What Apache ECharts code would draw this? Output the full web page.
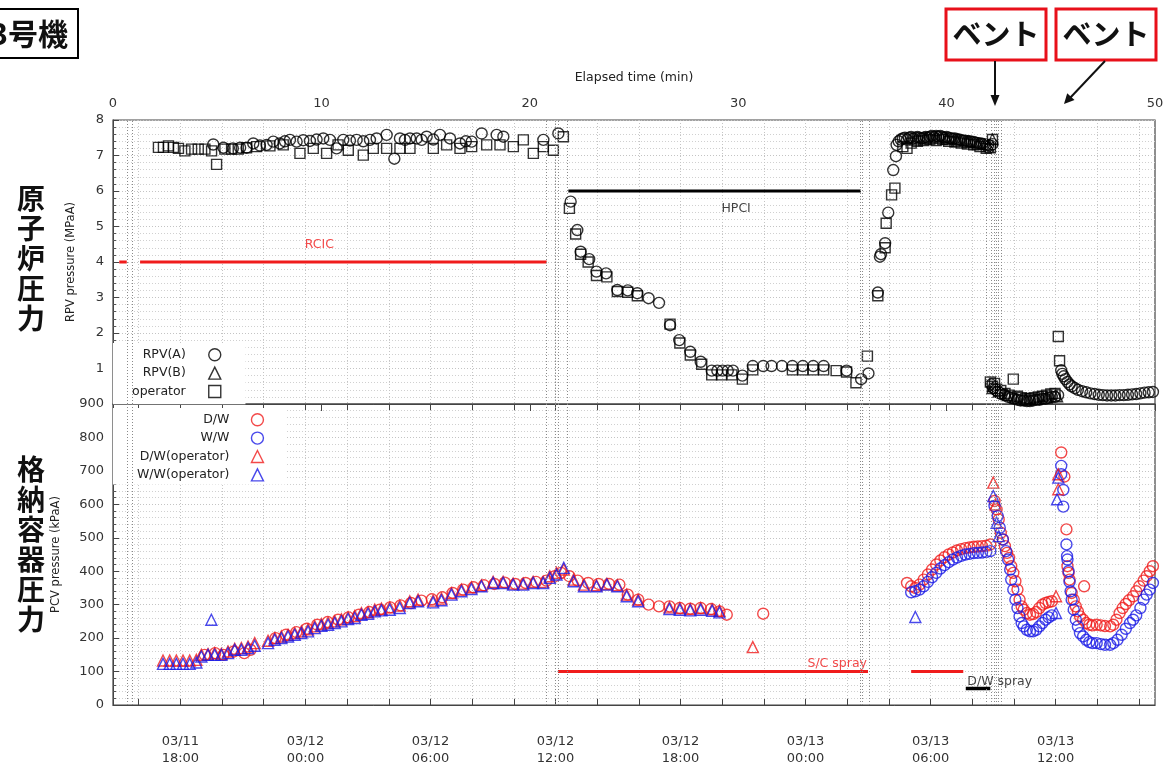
<!DOCTYPE html>
<html><head><meta charset="utf-8">
<script src="https://cdn.jsdelivr.net/npm/echarts@6/dist/echarts.min.js"></script>
<style>html,body{margin:0;padding:0;background:#fff}#c{width:1174px;height:769px}</style>
</head><body><div id="c"></div>
<script>
// ---- axis / label data ----
const T0 = Date.UTC(2011, 2, 11, 14, 46);           // elapsed-time origin
const dateLabels = ['03/11 18:00','03/12 00:00','03/12 06:00','03/12 12:00','03/12 18:00','03/13 00:00','03/13 06:00','03/13 12:00'];
const gridTickStart = '03/11 16:00';
const eventHours = [0.7, 0.9, 20.8, 21.2, 21.35, 21.8, 35.85, 35.97, 36.3, 41.9, 42.15, 42.3, 42.4, 42.5, 42.6];

// ---- RPV pressure (MPa) [elapsed h, value] ----
const rpvA = [
[4.81,7.31],[5.3,7.22],[5.75,7.2],[6.1,7.22],[6.41,7.22],[6.73,7.34],[7.05,7.28],[7.37,7.30],[7.69,7.39],[8.0,7.34],[8.25,7.40],[8.49,7.44],[8.81,7.39],[9.13,7.43],[9.45,7.41],[9.77,7.45],[10.09,7.48],[10.41,7.44],[10.73,7.2],[11.05,7.44],[11.37,7.42],[11.69,7.44],[12.01,7.40],[12.33,7.44],[12.65,7.48],[13.13,7.58],[13.5,6.91],[13.77,7.48],[14.01,7.44],[14.25,7.48],[14.57,7.48],[14.81,7.44],[15.05,7.53],[15.37,7.45],[15.69,7.58],[16.17,7.48],[16.65,7.34],[16.93,7.40],[17.21,7.39],[17.69,7.62],[18.41,7.58],[18.73,7.53],[20.65,7.44],[21.37,7.62],
[21.96,5.70],[22.28,4.90],[22.44,4.29],[22.85,4.08],[23.2,3.73],[23.66,3.68],[24.2,3.21],[24.7,3.20],[25.16,3.12],[25.7,2.98],[26.2,2.85],[26.73,2.22],[27.17,1.80],[27.7,1.47],[28.2,1.19],[28.73,0.94],[29.0,0.94],[29.25,0.94],[29.5,0.94],[29.75,0.94],[30.2,0.80],[30.7,1.07],[31.2,1.07],[31.6,1.07],[32.1,1.07],[32.6,1.07],[33.1,1.07],[33.6,1.07],[34.1,1.07],[35.2,0.94],[35.9,0.70],[36.25,0.86],[36.7,3.14],[36.8,4.15],[36.85,4.22],[37.05,4.53],[37.2,5.39],[37.44,6.59],[37.57,6.98],[37.6,7.3],
[37.7,7.40],[37.8,7.45],[37.9,7.48],[38.0,7.50],[38.1,7.45],[38.2,7.50],[38.3,7.52],[38.4,7.48],[38.5,7.50],[38.6,7.52],[38.7,7.50],[38.8,7.48],[38.9,7.50],[39.0,7.52],[39.1,7.50],[39.2,7.53],[39.3,7.55],[39.4,7.52],[39.5,7.55],[39.6,7.53],[39.7,7.55],[39.8,7.52],[39.9,7.50],[40.0,7.52],[40.1,7.50],[40.2,7.48],[40.3,7.47],[40.4,7.48],[40.5,7.45],[40.6,7.45],[40.7,7.43],[40.8,7.42],[40.9,7.42],[41.0,7.40],[41.1,7.40],[41.2,7.38],[41.3,7.38],[41.4,7.36],[41.5,7.35],[41.6,7.34],[41.7,7.33],[41.8,7.32],[41.9,7.30],[42.0,7.30],[42.1,7.28],[42.2,7.32],
[42.15,0.55],[42.25,0.45],[42.35,0.40],[42.45,0.35],[42.55,0.30],[42.65,0.28],[42.8,0.25],[42.95,0.20],[43.1,0.18],[43.25,0.15],[43.4,0.12],[43.55,0.10],[43.7,0.10],[43.85,0.08],[44.0,0.08],[44.15,0.10],[44.3,0.12],[44.45,0.12],[44.6,0.15],[44.75,0.15],[44.9,0.18],[45.05,0.20],[45.2,0.20],[45.35,0.25],
[45.5,0.95],[45.55,0.85],[45.62,0.78],[45.7,0.70],[45.8,0.62],[45.9,0.55],[46.0,0.50],[46.15,0.45],[46.3,0.40],[46.5,0.36],[46.7,0.33],[46.9,0.30],[47.1,0.28],[47.3,0.26],[47.5,0.25],[47.7,0.24],[47.9,0.24],[48.1,0.24],[48.3,0.25],[48.5,0.25],[48.7,0.26],[48.9,0.27],[49.1,0.28],[49.3,0.30],[49.5,0.32],[49.7,0.33],[49.9,0.34]
];
const rpvB = [
[38.5,7.45],[39.0,7.48],[39.5,7.50],[40.0,7.47],[40.5,7.42],[41.0,7.38],[41.5,7.32],[42.0,7.26],[42.2,7.45],
[42.2,0.45],[42.5,0.35],[42.9,0.25],[43.3,0.18],[43.8,0.12],[44.3,0.14],[44.8,0.18],[45.3,0.22]
];
const rpvOperator = [
[2.18,7.23],[2.42,7.23],[2.66,7.27],[2.90,7.23],[3.14,7.20],[3.45,7.13],[3.77,7.18],[4.09,7.18],[4.41,7.18],[4.73,7.13],[4.97,6.75],[5.37,7.18],[5.69,7.18],[6.01,7.18],[6.41,7.22],[6.89,7.25],[7.53,7.27],[8.17,7.30],[8.97,7.06],[9.61,7.20],[10.25,7.06],[10.8,7.3],[11.29,7.15],[12.01,7.01],[12.49,7.20],[13.13,7.20],[13.77,7.20],[14.25,7.20],[15.37,7.20],[16.01,7.30],[16.65,7.20],[17.21,7.25],[17.93,7.30],[18.57,7.30],[19.21,7.25],[19.69,7.44],[20.17,7.06],[20.65,7.25],[21.13,7.15],[21.61,7.53],
[21.9,5.51],[22.2,4.79],[22.44,4.22],[22.8,4.0],[23.2,3.62],[23.7,3.58],[24.2,3.17],[24.7,3.15],[25.16,3.05],[26.73,2.25],[27.2,1.72],[27.7,1.38],[28.25,1.12],[28.73,0.82],[29.2,0.82],[29.7,0.82],[30.2,0.70],[30.7,0.96],[32.6,0.96],[33.1,0.96],[33.6,0.96],[34.1,0.96],[34.7,0.94],[35.2,0.90],[35.65,0.60],[36.2,1.35],[36.7,3.05],[37.05,4.40],[37.1,5.09],[37.36,5.89],[37.52,6.08],
[37.9,7.25],[38.1,7.20],[38.3,7.35],[38.6,7.40],[38.9,7.42],[39.2,7.45],[39.5,7.42],[39.8,7.45],[40.1,7.40],[40.4,7.38],[40.7,7.35],[41.0,7.32],[41.3,7.30],[41.6,7.25],[41.9,7.20],[42.1,7.22],[42.2,7.45],
[42.1,0.62],[42.2,0.50],[42.3,0.58],[42.4,0.42],[42.6,0.38],[42.8,0.30],[43.0,0.25],[43.2,0.70],[43.4,0.22],[43.6,0.18],[43.8,0.15],[44.0,0.15],[44.2,0.18],[44.4,0.20],[44.6,0.22],[44.8,0.25],[45.0,0.28],[45.2,0.30],[45.36,1.90],[45.42,1.22]
];
const rcicLine = [[0.3,4],[0.66,4],[1.0,'-'],[1.3,4],[20.81,4]];
const hpciLine = [[21.85,6],[35.88,6]];

// ---- PCV pressure (kPa) [elapsed h, value] ----
const dw = [
[4.4,150],[4.9,155],[5.3,150],[5.8,160],[6.3,155],[6.6,165],[7.8,200],[8.3,210],[8.8,218],[9.3,228],[9.8,240],[10.3,248],[10.8,255],[11.3,262],[11.8,270],[12.3,278],[12.8,285],[13.3,292],[13.8,298],[14.3,305],[14.8,312],[15.3,316],[15.8,322],[16.3,335],[16.8,345],[17.3,352],[17.8,358],[18.3,362],[18.8,366],[19.3,362],[19.8,365],[20.3,368],[20.8,372],[21.2,385],[21.5,395],[21.9,385],[22.3,372],[22.8,365],[23.3,362],[23.8,362],[24.3,360],[24.7,330],[25.2,315],[25.7,300],[26.2,295],[26.7,295],[27.2,290],[27.7,288],[28.2,290],[28.7,287],[29.1,280],[29.45,270],[31.2,273],
[38.1,365],[38.3,355],[38.5,350],[38.7,360],[38.9,375],[39.1,390],[39.3,405],[39.5,420],[39.7,432],[39.9,442],[40.1,450],[40.3,456],[40.5,462],[40.7,466],[40.9,469],[41.1,471],[41.3,473],[41.5,474],[41.7,475],[41.9,476],[42.1,480],[42.3,610],[42.4,585],[42.5,555],[42.6,515],[42.7,495],[42.8,475],[42.9,455],[43.0,440],[43.1,415],[43.2,395],[43.3,370],[43.4,345],[43.5,315],[43.6,295],[43.7,285],[43.85,275],[44.0,270],[44.15,272],[44.3,278],[44.45,290],[44.6,300],[44.75,305],[44.9,308],[45.05,310],
[45.5,755],[45.65,683],[45.75,525],[45.8,415],[45.85,395],[45.9,375],[46.0,335],[46.1,315],[46.2,295],[46.3,280],[46.4,265],[46.55,255],[46.6,355],[46.7,245],[46.85,240],[47.0,238],[47.2,240],[47.4,238],[47.6,236],[47.85,235],[48.0,240],[48.15,255],[48.3,275],[48.45,290],[48.6,302],[48.75,313],[48.95,325],[49.1,340],[49.25,355],[49.45,372],[49.6,385],[49.75,400],[49.9,415]
];
const ww = [
[38.3,337],[38.5,340],[38.7,345],[38.9,355],[39.1,368],[39.3,382],[39.5,395],[39.7,408],[39.9,418],[40.1,427],[40.3,435],[40.5,441],[40.7,446],[40.9,450],[41.1,452],[41.3,454],[41.5,455],[41.7,456],[41.9,457],[42.1,460],[42.3,595],[42.45,565],[42.55,530],[42.7,495],[42.85,460],[42.95,435],[43.05,405],[43.1,375],[43.2,345],[43.3,315],[43.4,290],[43.5,265],[43.6,245],[43.7,235],[43.85,225],[44.0,220],[44.15,220],[44.3,225],[44.45,235],[44.6,245],[44.75,255],[44.9,262],[45.05,268],
[45.5,715],[45.5,690],[45.6,643],[45.6,593],[45.75,480],[45.78,445],[45.8,435],[45.85,400],[45.9,368],[45.95,340],[46.0,315],[46.1,285],[46.2,255],[46.3,235],[46.4,215],[46.55,205],[46.7,195],[46.85,188],[47.0,185],[47.2,185],[47.4,182],[47.6,180],[47.85,180],[48.0,185],[48.2,195],[48.4,210],[48.6,228],[48.8,245],[48.95,255],[49.1,268],[49.3,290],[49.45,315],[49.6,330],[49.75,345],[49.9,365]
];
const dwOperator = [
[2.4,133],[2.72,133],[3.04,133],[3.36,133],[3.68,133],[4.0,135],[4.24,150],[4.56,152],[4.88,155],[5.2,153],[5.52,160],[5.84,168],[6.16,170],[6.48,175],[6.8,185],[7.44,192],[7.76,200],[8.08,205],[8.4,210],[8.72,215],[9.04,220],[9.36,226],[9.68,235],[10.0,242],[10.32,246],[10.64,250],[10.96,256],[11.28,262],[11.6,266],[11.92,275],[12.24,278],[12.56,285],[12.88,288],[13.28,292],[13.76,297],[14.24,310],[14.64,315],[15.36,312],[15.76,318],[16.24,335],[16.72,345],[17.2,352],[17.68,358],[18.24,368],[18.72,368],[19.2,363],[19.68,363],[20.16,368],[20.64,368],[20.96,385],[21.28,395],[21.63,405],[22.1,375],[22.6,360],[23.2,358],[23.7,362],[24.2,358],[24.65,330],[25.2,315],[26.7,292],[27.2,290],[27.7,287],[28.2,290],[28.75,286],[29.1,282],[30.7,173],
[42.24,665],[42.35,600],[45.25,325],[45.36,645],[45.36,690]
];
const wwOperator = [
[2.4,123],[2.72,123],[3.04,123],[3.36,123],[3.68,123],[4.0,127],[4.24,145],[4.56,150],[4.72,255],[4.88,150],[5.2,150],[5.52,155],[5.84,165],[6.16,165],[6.48,170],[6.8,177],[7.44,185],[7.76,195],[8.08,200],[8.4,205],[8.72,210],[9.04,215],[9.36,220],[9.68,230],[10.0,237],[10.32,240],[10.64,245],[10.96,250],[11.28,257],[11.6,260],[11.92,270],[12.24,273],[12.56,280],[12.88,283],[13.28,285],[13.76,290],[14.24,305],[14.64,310],[15.36,307],[15.76,313],[16.24,330],[16.72,340],[17.2,347],[17.68,355],[18.24,365],[18.72,365],[19.2,360],[19.68,360],[20.16,365],[20.64,365],[20.96,380],[21.28,390],[21.63,410],[22.1,370],[22.6,355],[23.2,355],[23.7,360],[24.2,355],[24.65,325],[25.2,310],[26.7,287],[27.2,285],[27.7,283],[28.2,285],[28.75,282],[29.1,277],
[38.5,263],[42.24,625],[42.4,545],[42.5,505],[45.25,275],[45.3,615],[45.36,680]
];
const scSprayLine = [[21.35,100],[36.23,100],[37.0,'-'],[38.3,100],[40.8,100]];
const dwSprayLine = [[40.92,49],[42.1,49]];

// ---- helpers ----
function toHours(s) {
  const m = s.match(/(\d+)\/(\d+) (\d+):(\d+)/);
  return (Date.UTC(2011, +m[1] - 1, +m[2], +m[3], +m[4]) - T0) / 3600000;
}
const dateVals = dateLabels.map(toHours);
const gridTicks = [];
for (let h = toHours(gridTickStart); h <= 50; h += 2) gridTicks.push(+h.toFixed(4));

const RED = '#f01c1c', BLUE = '#1c1ce6';
const FONT = 'DejaVu Sans';
const dotted = (c) => ({ lineStyle: { type: [1, 2], color: c, width: 1 } });

function scatter(name, data, symbol, color, x, y, size) {
  return { name, type: 'scatter', xAxisIndex: x, yAxisIndex: y, data, symbol, symbolSize: size,
    itemStyle: { color: 'rgba(0,0,0,0)', borderColor: color, borderWidth: 1.4 }, emphasis: { disabled: true }, z: 3 };
}
function evLines() {
  return { silent: true, symbol: 'none', label: { show: false }, animation: false,
    lineStyle: { type: [1, 2], color: '#8a8a8a', width: 1 }, data: eventHours.map(h => ({ xAxis: h })) };
}
function textPt(text, pos, x, y, color) {
  return { type: 'scatter', xAxisIndex: x, yAxisIndex: y, data: [pos], symbolSize: 0, silent: true, z: 4,
    label: { show: true, position: 'inside', formatter: text, color, fontSize: 12.5, fontFamily: FONT } };
}

const chart = echarts.init(document.getElementById('c'));
chart.setOption({
  animation: false,
  backgroundColor: '#fff',
  textStyle: { fontFamily: FONT },
  grid: [
    { left: 113, width: 1042, top: 120, height: 284, show: true, borderColor: '#444', borderWidth: 1.2 },
    { left: 113, width: 1042, top: 404, height: 301, show: true, borderColor: '#444', borderWidth: 1.2 }
  ],
  xAxis: [
    { gridIndex: 0, type: 'value', position: 'top', min: 0, max: 50, interval: 10,
      name: 'Elapsed time (min)', nameLocation: 'middle', nameGap: 36, nameTextStyle: { fontSize: 12.5, color: '#222' },
      axisLine: { lineStyle: { color: '#444' } }, axisTick: { inside: true, length: 7, lineStyle: { color: '#444' } },
      axisLabel: { fontSize: 13, color: '#333', margin: 10 }, splitLine: { show: false } },
    { gridIndex: 0, type: 'value', position: 'bottom', min: 0, max: 50,
      axisLine: { show: false }, axisLabel: { show: false },
      axisTick: { show: false, customValues: gridTicks },
      splitLine: { show: true, ...dotted('#c4c4c4') } },
    { gridIndex: 1, type: 'value', position: 'bottom', min: 0, max: 50,
      axisLine: { lineStyle: { color: '#444' } },
      axisTick: { inside: true, length: 6, customValues: gridTicks, lineStyle: { color: '#444' } },
      axisLabel: { customValues: dateVals, fontSize: 13, color: '#333', margin: 28, lineHeight: 17, align: 'center',
        formatter: (v) => { let best = 0; dateVals.forEach((d, i) => { if (Math.abs(d - v) < Math.abs(dateVals[best] - v)) best = i; }); return dateLabels[best].replace(' ', '\n'); } },
      splitLine: { show: true, ...dotted('#c4c4c4') } },
    { gridIndex: 1, type: 'value', position: 'top', min: 0, max: 50,
      axisLine: { show: false }, axisLabel: { show: false },
      axisTick: { inside: true, length: 6, customValues: gridTicks, lineStyle: { color: '#444' } },
      splitLine: { show: false } }
  ],
  yAxis: [
    { gridIndex: 0, type: 'value', min: 0, max: 8, interval: 1,
      name: 'RPV pressure (MPaA)', nameLocation: 'middle', nameGap: 36, nameRotate: 90, nameTextStyle: { fontSize: 11.5, color: '#222' },
      axisLine: { lineStyle: { color: '#444' } },
      axisTick: { inside: true, length: 6, lineStyle: { color: '#444' } },
      minorTick: { show: true, splitNumber: 5, length: 3, lineStyle: { color: '#555' } },
      axisLabel: { fontSize: 13, color: '#333', margin: 9, showMinLabel: false },
      splitLine: { show: true, ...dotted('#c4c4c4') },
      minorSplitLine: { show: true, ...dotted('#d0d0d0') } },
    { gridIndex: 1, type: 'value', min: 0, max: 900, interval: 100,
      name: 'PCV pressure (kPaA)', nameLocation: 'middle', nameGap: 51, nameRotate: 90, nameTextStyle: { fontSize: 11.5, color: '#222' },
      axisLine: { lineStyle: { color: '#444' } },
      axisTick: { inside: true, length: 6, lineStyle: { color: '#444' } },
      minorTick: { show: true, splitNumber: 5, length: 3, lineStyle: { color: '#555' } },
      axisLabel: { fontSize: 13, color: '#333', margin: 9 },
      splitLine: { show: true, ...dotted('#c4c4c4') },
      minorSplitLine: { show: true, ...dotted('#d0d0d0') } }
  ],
  legend: [
    { data: ['RPV(A)', 'RPV(B)', 'operator'], orient: 'vertical', align: 'right', left: 113, top: 343,
      itemWidth: 12, itemHeight: 12, itemGap: 5, padding: [5, 24, 6, 19], backgroundColor: '#fff',
      itemStyle: { borderWidth: 1.4 }, textStyle: { fontSize: 12.5, color: '#222', fontFamily: FONT, padding: [0, 18, 0, 0] }, selectedMode: false },
    { data: ['D/W', 'W/W', 'D/W(operator)', 'W/W(operator)'], orient: 'vertical', align: 'right', left: 113, top: 408,
      itemWidth: 12, itemHeight: 12, itemGap: 5, padding: [5, 22, 3, 24], backgroundColor: '#fff',
      itemStyle: { borderWidth: 1.4 }, textStyle: { fontSize: 12.5, color: '#222', fontFamily: FONT, padding: [0, 17, 0, 0] }, selectedMode: false }
  ],
  series: [
    { name: 'RCIC_line', type: 'line', xAxisIndex: 0, yAxisIndex: 0, data: rcicLine, symbol: 'none', connectNulls: false,
      lineStyle: { color: RED, width: 3 }, silent: true, z: 2, markLine: evLines() },
    { name: 'HPCI_line', type: 'line', xAxisIndex: 0, yAxisIndex: 0, data: hpciLine, symbol: 'none',
      lineStyle: { color: '#000', width: 3 }, silent: true, z: 2 },
    textPt('RCIC', [9.9, 4.48], 0, 0, RED),
    textPt('HPCI', [29.9, 5.49], 0, 0, '#111'),
    scatter('RPV(A)', rpvA, 'circle', '#000', 0, 0, 11),
    scatter('RPV(B)', rpvB, 'triangle', '#000', 0, 0, 11),
    scatter('operator', rpvOperator, 'rect', '#000', 0, 0, 10),

    { name: 'SC_line', type: 'line', xAxisIndex: 2, yAxisIndex: 1, data: scSprayLine, symbol: 'none', connectNulls: false,
      lineStyle: { color: RED, width: 3 }, silent: true, z: 2, markLine: evLines() },
    { name: 'DW_line', type: 'line', xAxisIndex: 2, yAxisIndex: 1, data: dwSprayLine, symbol: 'none',
      lineStyle: { color: '#000', width: 3.5 }, silent: true, z: 2 },
    textPt('S/C spray', [34.75, 123], 2, 1, RED),
    textPt('D/W spray', [42.55, 70], 2, 1, '#111'),
    scatter('D/W', dw, 'circle', RED, 2, 1, 11),
    scatter('W/W', ww, 'circle', BLUE, 2, 1, 11),
    scatter('D/W(operator)', dwOperator, 'triangle', RED, 2, 1, 11),
    scatter('W/W(operator)', wwOperator, 'triangle', BLUE, 2, 1, 11)
  ],
  graphic: [
    { type: 'rect', shape: { x: -5, y: 9, width: 83, height: 49 }, style: { fill: '#fff', stroke: '#000', lineWidth: 2 } },
    { type: 'text', x: 68, y: 34, style: { text: '3号機', font: 'bold 30px "Noto Sans CJK JP"', fill: '#111', align: 'right', verticalAlign: 'middle' } },
    { type: 'rect', shape: { x: 946, y: 9, width: 100, height: 51 }, style: { fill: '#fff', stroke: '#e8101a', lineWidth: 3 } },
    { type: 'text', x: 996, y: 34, style: { text: 'ベント', font: 'bold 29px "Noto Sans CJK JP"', fill: '#111', align: 'center', verticalAlign: 'middle' } },
    { type: 'rect', shape: { x: 1056, y: 9, width: 100, height: 51 }, style: { fill: '#fff', stroke: '#e8101a', lineWidth: 3 } },
    { type: 'text', x: 1106, y: 34, style: { text: 'ベント', font: 'bold 29px "Noto Sans CJK JP"', fill: '#111', align: 'center', verticalAlign: 'middle' } },
    { type: 'line', shape: { x1: 995, y1: 61, x2: 995, y2: 97 }, style: { stroke: '#111', lineWidth: 2 } },
    { type: 'polygon', shape: { points: [[995, 106], [990.5, 95], [999.5, 95]] }, style: { fill: '#111' } },
    { type: 'line', shape: { x1: 1105, y1: 61, x2: 1070, y2: 98 }, style: { stroke: '#111', lineWidth: 2 } },
    { type: 'polygon', shape: { points: [[1064, 104], [1074.5, 100.1], [1067.2, 93.3]] }, style: { fill: '#111' } },
    { type: 'text', x: 31, y: 258, style: { text: '原\n子\n炉\n圧\n力', font: 'bold 28px "Noto Sans CJK JP"', lineHeight: 30, fill: '#111', align: 'center', verticalAlign: 'middle' } },
    { type: 'text', x: 31, y: 544, style: { text: '格\n納\n容\n器\n圧\n力', font: 'bold 28px "Noto Sans CJK JP"', lineHeight: 30, fill: '#111', align: 'center', verticalAlign: 'middle' } }
  ]
});
</script></body></html>
